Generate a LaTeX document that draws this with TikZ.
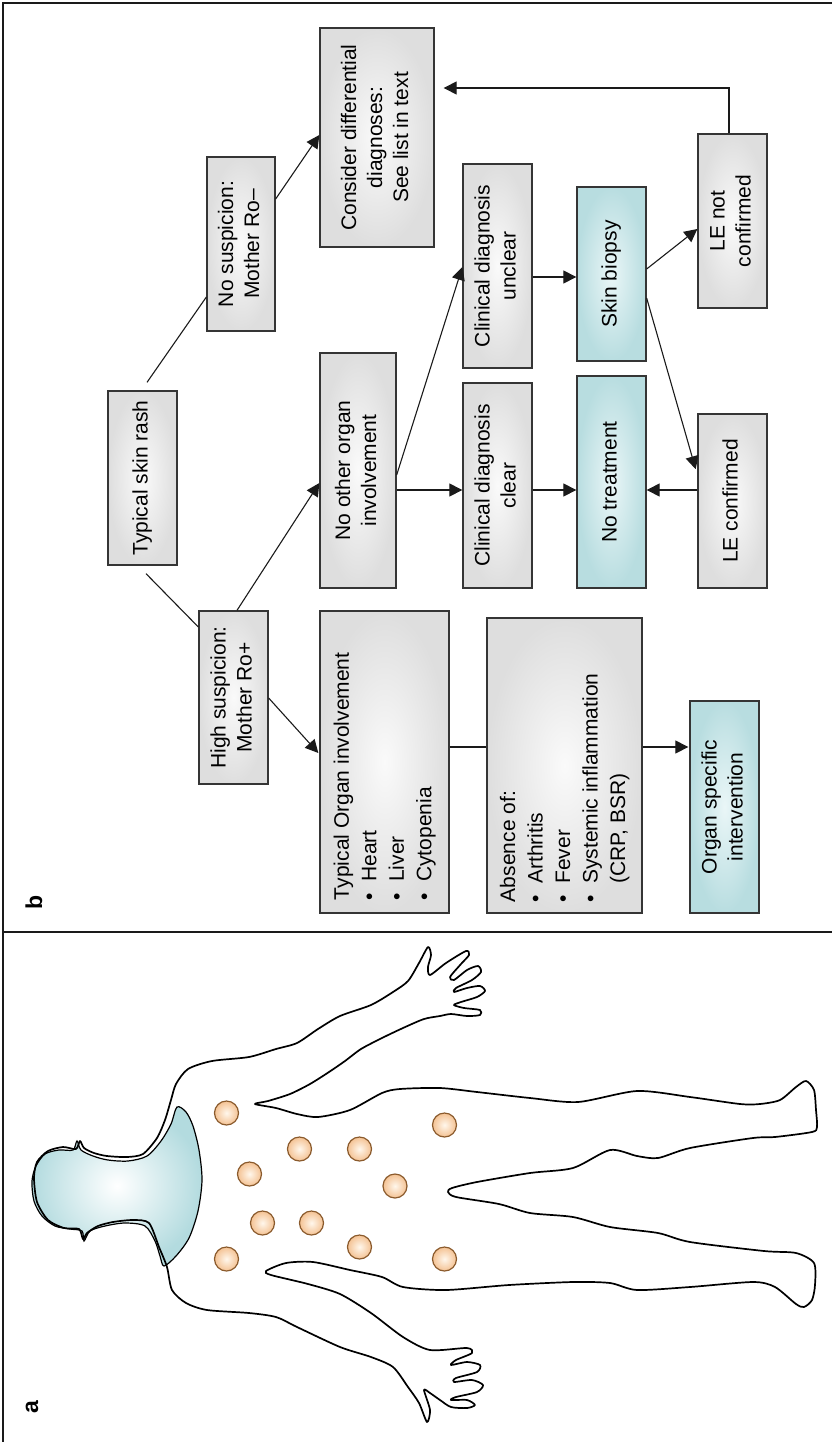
\documentclass[tikz,border=0pt]{standalone}
\usepackage{fontspec}
\setmainfont{Liberation Sans}
\usepackage{graphicx}
\usetikzlibrary{arrows.meta,calc}

\definecolor{boxgray}{HTML}{DEDEDE}
\definecolor{boxlight}{HTML}{FAFAFA}
\definecolor{boxblue}{HTML}{B8DDE0}
\definecolor{bluelight}{HTML}{EAF6F7}
\definecolor{edge}{HTML}{353535}
\definecolor{ink}{HTML}{1A1A1A}
\definecolor{spotfill}{HTML}{F4C293}
\definecolor{spotlight}{HTML}{FFF7EC}
\definecolor{spotedge}{HTML}{8A5A2C}
\definecolor{skinblue}{HTML}{B3DBDF}

\newcommand\boxfont{\fontsize{21}{26}\selectfont}
\newcommand\listfont{\fontsize{21}{27.5}\selectfont}
% centred text, reading bottom to top
\newcommand\rottext[1]{\rotatebox{90}{\begin{tabular}{@{}c@{}}#1\end{tabular}}}
% bullet list, reading bottom to top, aligned to the lower edge
\newcommand\rotlist[2]{\rotatebox{90}{\makebox[#1][l]{\begin{tabular}{@{}l@{\hspace{11pt}}l@{}}#2\end{tabular}}}}

\begin{document}
\begin{tikzpicture}[x=1pt,y=-1pt,
  gbox/.style={draw=edge, line width=1.3pt, inner color=boxlight, outer color=boxgray,
               inner sep=0pt, font=\boxfont},
  bluebox/.style={gbox, inner color=bluelight, outer color=boxblue},
  listbox/.style={gbox, font=\listfont},
  conn/.style={draw=ink, line width=1.1pt},
  conarrow/.style={conn, -{Triangle[length=13pt,width=13pt]}},
  frameline/.style={draw=ink, line width=2pt},
  panellabel/.style={rotate=90, inner sep=0pt, font=\bfseries\fontsize{23}{23}\selectfont},
  spot/.style={circle, minimum size=24pt, inner sep=0pt, draw=spotedge, line width=1.2pt,
               inner color=spotlight, outer color=spotfill},
  outline/.style={draw=black, line width=1.7pt, line join=round}]

\useasboundingbox (0,0) rectangle (832,1442);

% panel frame and divider
\draw[frameline] (832,3) -- (3,3) -- (3,1442);
\draw[frameline] (3,932) -- (832,932);

\node[panellabel] (lb) at (34,902) {b};
\node[panellabel] (la) at (32,1407) {a};

% ---------- flow chart ----------
\node[gbox, minimum width=114pt, minimum height=219pt] (consider) at (377,137.5)
  {\rottext{Consider differential\\diagnoses:\\See list in text}};
\node[gbox, minimum width=68pt, minimum height=174pt] (nosusp) at (241,244)
  {\rottext{No suspicion:\\Mother Ro–}};
\node[gbox, minimum width=69pt, minimum height=174pt] (typskin) at (142.5,478)
  {\rottext{Typical skin rash}};
\node[gbox, minimum width=69pt, minimum height=173pt] (highsusp) at (233.5,697.5)
  {\rottext{High suspicion:\\Mother Ro+}};
\node[gbox, minimum width=76pt, minimum height=235pt] (noother) at (358,470.5)
  {\rottext{No other organ\\involvement}};
\node[listbox, minimum width=129pt, minimum height=302pt] (typorgan) at (384.5,762)
  {\rotlist{276pt}{\multicolumn{2}{@{}l@{}}{Typical Organ involvement}\\
   •&Heart\\ •&Liver\\ •&Cytopenia}};
\node[gbox, minimum width=69pt, minimum height=204pt] (unclear) at (497.5,266)
  {\rottext{Clinical diagnosis\\unclear}};
\node[gbox, minimum width=69pt, minimum height=205pt] (clear) at (497.5,485.5)
  {\rottext{Clinical diagnosis\\clear}};
\node[listbox, minimum width=155pt, minimum height=295pt] (absence) at (564.5,765.5)
  {\rotlist{273pt}{\multicolumn{2}{@{}l@{}}{Absence of:}\\
   •&Arthritis\\ •&Fever\\ •&Systemic inflammation\\ &(CRP, BSR)}};
\node[bluebox, minimum width=69pt, minimum height=174pt] (biopsy) at (611.5,274)
  {\rottext{Skin biopsy}};
\node[bluebox, minimum width=69pt, minimum height=212pt] (notreat) at (611.5,482)
  {\rottext{No treatment}};
\node[bluebox, minimum width=69pt, minimum height=212pt] (organspec) at (724.5,807)
  {\rottext{Organ specific\\intervention}};
\node[gbox, minimum width=69pt, minimum height=174pt] (notconf) at (732.5,221)
  {\rottext{LE not\\confirmed}};
\node[gbox, minimum width=69pt, minimum height=174pt] (conf) at (732.5,501)
  {\rottext{LE confirmed}};

% rows shared by straight connectors
\coordinate (rowA) at (0,277);
\coordinate (rowB) at (0,490);
\coordinate (rowC) at (0,747);

\draw[conn] ($(typskin.north)+(4.5,-8)$) -- ($(nosusp.west)+(0,53)$);
\draw[conn] ($(typskin.south)+(3.5,8)$) -- ($(highsusp.west)+(0,-70.5)$);
\draw[conarrow] ($(nosusp.east)+(0,-45)$) -- ($(consider.west)+(0,-2.5)$);
\draw[conarrow] ($(highsusp.north)+(3.5,0)$) -- ($(noother.west)+(0,12.5)$);
\draw[conarrow] ($(highsusp.east)+(0,0.5)$) -- ($(typorgan.west)+(-1,-9)$);
\draw[conarrow] (noother.east |- rowB) -- (clear.west |- rowB);
\draw[conarrow] ($(noother.east)+(0,4.5)$) -- ($(unclear.west)+(0,1)$);
\draw[conarrow] (unclear.east |- rowA) -- (biopsy.west |- rowA);
\draw[conarrow] (clear.east |- rowB) -- (notreat.west |- rowB);
\draw[conarrow] (conf.west |- rowB) -- (notreat.east |- rowB);
\draw[conarrow] ($(biopsy.east)+(0,-5)$) -- ($(notconf.west)+(0,8)$);
\draw[conarrow, shorten >=6pt] ($(biopsy.east)+(0,24)$) -- ($(conf.west)+(0,-26)$);
\draw[conarrow] ($(notconf.north)+(-3.5,0)$) |- ($(consider.east)+(9,-49.5)$);
\draw[conn] (typorgan.east |- rowC) -- (absence.west |- rowC);
\draw[conarrow] (absence.east |- rowC) -- ($(organspec.west |- rowC)+(-1,0)$);

% ---------- body figure ----------
% head, neck and upper chest shaded blue
\shadedraw[inner color=white, outer color=skinblue, draw=black, line width=1.2pt]
  plot[smooth cycle, tension=0.5] coordinates {
  (177,1107) (171,1124) (161,1141) (147,1156) (128,1161) (108,1160) (93,1156)
  (81,1150) (77,1141) (73,1150) (59,1150) (45,1154) (36,1166) (32,1181) (34,1201)
  (42,1216) (55,1226) (70,1229) (82,1231) (84,1241) (90,1231) (105,1226) (125,1223)
  (145,1226) (155,1241) (160,1256) (164,1266) (176,1256) (189,1238) (198,1211)
  (202,1180) (199,1150) (193,1126) (186,1112)};

% body outline
\draw[outline] plot[smooth cycle, tension=0.45] coordinates {
  (149,1223) (133,1220) (113,1222) (98,1226) (87,1233) (83,1239) (79,1229) (64,1228)
  (48,1220) (37,1202) (34,1178) (37,1162) (48,1151) (63,1147) (76,1149) (80,1141)
  (84,1148) (94,1153) (107,1156) (127,1157) (143,1154) (157,1138) (165,1120)
  (171,1100) (176,1084) (188,1069) (212,1061) (249,1057) (276,1049) (297,1043)
  (318,1029) (340,1016) (371,1005) (393,992) (408,981) (419,963) (428,947)
  (431,955) (428,967) (430,975) (446,963) (466,951) (469,955) (461,964) (450,977)
  (454,980) (467,970) (478,966) (481,972) (472,980) (456,988) (454,992) (467,988)
  (480,986) (485,991) (477,997) (461,1002) (454,1005) (464,1008) (480,1010)
  (480,1015) (467,1016) (451,1014) (440,1016)
  (424,1019) (403,1028) (382,1038) (361,1049) (345,1061) (329,1072) (310,1084)
  (290,1094) (268,1101) (255,1104) (276,1108) (297,1114) (318,1117) (350,1110)
  (382,1093) (400,1089) (440,1088) (477,1092) (530,1098) (578,1102) (637,1091)
  (690,1097) (740,1104) (760,1104) (780,1100) (796,1087) (806,1081) (814,1090)
  (816,1110) (817,1127) (812,1132) (775,1137) (753,1138) (690,1148) (658,1158)
  (637,1156) (610,1150) (573,1168) (530,1173) (477,1182) (452,1188) (448,1192)
  (456,1197) (499,1204) (530,1213) (573,1217) (610,1227) (658,1233) (690,1242)
  (764,1251) (796,1253) (814,1263) (815,1285) (812,1300) (804,1307) (796,1304)
  (775,1287) (753,1282) (690,1287) (637,1290) (610,1283) (573,1282) (509,1285)
  (446,1290) (403,1287) (382,1277) (350,1270) (313,1262) (286,1263) (266,1271)
  (271,1275) (308,1284) (340,1294) (371,1313) (403,1337) (430,1350)
  (467,1348) (472,1353) (456,1360) (451,1365) (467,1362) (480,1365) (477,1372)
  (456,1378) (454,1382) (472,1380) (483,1385) (477,1392) (456,1397) (451,1400)
  (467,1400) (475,1405) (467,1408) (451,1407) (440,1400) (430,1393) (424,1390)
  (430,1410) (427,1422) (419,1403) (408,1387) (393,1367) (371,1357) (340,1347)
  (297,1327) (276,1317) (249,1313) (207,1310) (186,1303) (172,1290) (167,1267)
  (159,1247)};

% skin lesions
\node[spot] (s1)  at (226.5,1113) {};
\node[spot] (s2)  at (444.5,1125) {};
\node[spot] (s3)  at (299.5,1149) {};
\node[spot] (s4)  at (359.5,1149) {};
\node[spot] (s5)  at (249.5,1174) {};
\node[spot] (s6)  at (395,1186) {};
\node[spot] (s7)  at (262.5,1223) {};
\node[spot] (s8)  at (311.5,1223) {};
\node[spot] (s9)  at (359.5,1247) {};
\node[spot] (s10) at (226.5,1259) {};
\node[spot] (s11) at (444.5,1259) {};

\end{tikzpicture}
\end{document}
